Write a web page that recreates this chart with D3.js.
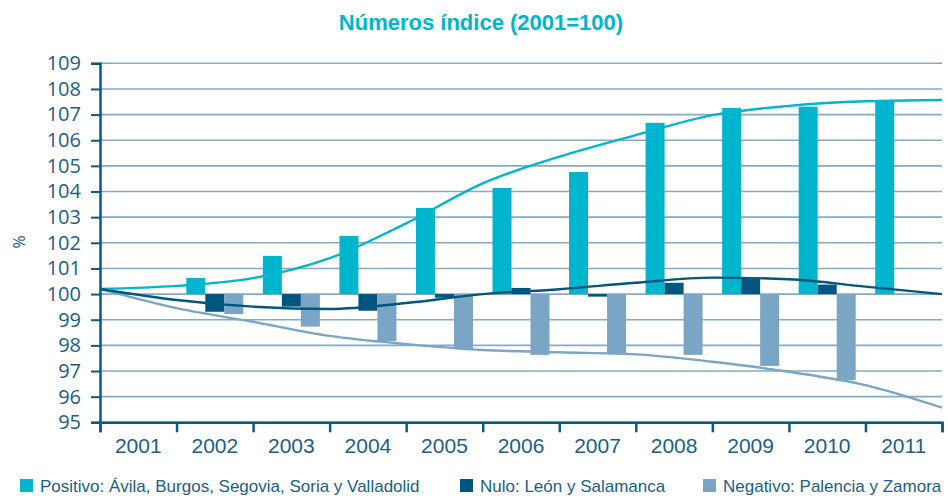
<!DOCTYPE html>
<html>
<head>
<meta charset="utf-8">
<script src="https://cdn.jsdelivr.net/npm/d3@7"></script>
<style>
  body { margin: 0; background: #fff; }
  svg { display: block; }
</style>
</head>
<body>
<div id="chart"></div>
<script>
(function () {
  'use strict';

  // data
  var years = ["2001", "2002", "2003", "2004", "2005", "2006", "2007", "2008", "2009", "2010", "2011"];
  var positivo = [100, 100.63, 101.49, 102.27, 103.36, 104.14, 104.76, 106.68, 107.26, 107.31, 107.5];
  var nulo     = [100, 99.31, 99.51, 99.35, 99.86, 100.24, 99.9, 100.44, 100.65, 100.37, 100];
  var negativo = [100, 99.22, 98.73, 98.17, 97.85, 97.63, 97.65, 97.63, 97.2, 96.64, 100];

  // trend curves, sampled at the year boundaries (12 points)
  var trendPositivo = [100.2, 100.32, 100.62, 101.4, 102.76, 104.32, 105.36, 106.2, 106.98, 107.34, 107.52, 107.57];
  var trendNulo     = [100.2, 99.77, 99.51, 99.42, 99.65, 100.0, 100.19, 100.44, 100.64, 100.58, 100.29, 100.0];
  var trendNegativo = [100.2, 99.45, 98.92, 98.37, 98.05, 97.82, 97.73, 97.65, 97.36, 96.97, 96.45, 95.57];

  var yTicks = d3.range(95, 110);
  var seriesNames = ["Positivo: Ávila, Burgos, Segovia, Soria y Valladolid", "Nulo: León y Salamanca", "Negativo: Palencia y Zamora"];
  var colors = ["#00b5cc", "#00567f", "#7ba5c5"];

  var width = 948, height = 498;
  var left = 100, right = 942, top = 63.3, bottom = 422.3;

  var svg = d3.select("#chart").append("svg")
    .attr("width", width)
    .attr("height", height);

  var y = d3.scaleLinear().domain([95, 109]).range([bottom, top]);
  var xl = d3.scaleLinear().domain([0, years.length]).range([left, right]);
  var x0 = d3.scaleBand().domain(years).range([left, right])
    .paddingInner(0.255).paddingOuter(0.1275);
  var x1 = d3.scaleBand().domain([0, 1, 2]).range([0, x0.bandwidth()]);

  // title
  svg.append("text")
    .attr("x", 481)
    .attr("y", 30)
    .attr("text-anchor", "middle")
    .style("font-family", "'Liberation Sans', Arial, sans-serif")
    .style("font-weight", "bold")
    .style("font-size", "22px")
    .style("fill", "#00b5cc")
    .text("Números índice (2001=100)");

  // grid
  svg.append("g")
    .attr("class", "grid")
    .selectAll("line")
    .data(yTicks)
    .enter().append("line")
    .attr("x1", left)
    .attr("x2", right)
    .attr("y1", function(d) { return y(d); })
    .attr("y2", function(d) { return y(d); })
    .style("stroke", "#86a9c6")
    .style("stroke-width", 1.6);

  // bars
  var data = years.map(function(yr, i) {
    return { year: yr, vals: [positivo[i], nulo[i], negativo[i]] };
  });

  var groups = svg.append("g").selectAll("g")
    .data(data)
    .enter().append("g")
    .attr("transform", function(d) { return "translate(" + x0(d.year) + ",0)"; });

  groups.selectAll("rect")
    .data(function(d) { return d.vals.map(function(v, k) { return { k: k, v: v }; }); })
    .enter().append("rect")
    .attr("x", function(d) { return x1(d.k); })
    .attr("width", x1.bandwidth())
    .attr("y", function(d) { return y(Math.max(d.v, 100)); })
    .attr("height", function(d) { return Math.abs(y(d.v) - y(100)); })
    .style("fill", function(d) { return colors[d.k]; });

  // trend lines
  var line = d3.line()
    .x(function(d, i) { return xl(i); })
    .y(function(d) { return y(d); })
    .curve(d3.curveMonotoneX);

  [[trendNegativo, colors[2]], [trendPositivo, colors[0]], [trendNulo, colors[1]]].forEach(function(t) {
    svg.append("path")
      .datum(t[0])
      .attr("d", line)
      .style("fill", "none")
      .style("stroke", t[1])
      .style("stroke-width", 2.4);
  });

  // y axis
  var yAxis = svg.append("g")
    .attr("transform", "translate(" + left + ",0)")
    .call(d3.axisLeft(y).tickValues(yTicks).tickSize(9).tickPadding(10));
  yAxis.select(".domain").style("stroke", "#0b5a84").style("stroke-width", 2.5);
  yAxis.selectAll(".tick line").style("stroke", "#0b5a84").style("stroke-width", 2);
  yAxis.selectAll("text")
    .style("font-family", "'Open Sans', 'Liberation Sans', sans-serif")
    .style("font-size", "20px")
    .style("fill", "#1c5e86");

  // x axis: ticks at the year boundaries, labels centred in each year
  var xAxis = svg.append("g")
    .attr("transform", "translate(0," + bottom + ")")
    .call(d3.axisBottom(xl).tickValues(d3.range(years.length + 1)).tickSize(10).tickFormat(""));
  xAxis.select(".domain").style("stroke", "#0b5a84").style("stroke-width", 2.5);
  xAxis.selectAll(".tick line").style("stroke", "#0b5a84").style("stroke-width", 2.5);

  svg.append("g").selectAll("text")
    .data(years)
    .enter().append("text")
    .attr("x", function(d) { return x0(d) + x0.bandwidth() / 2; })
    .attr("y", 453)
    .attr("text-anchor", "middle")
    .style("font-family", "'Liberation Sans', sans-serif")
    .style("font-size", "21px")
    .style("fill", "#1c5e86")
    .text(function(d) { return d; });

  // % label
  svg.append("text")
    .attr("transform", "translate(25,242) rotate(-90)")
    .attr("text-anchor", "middle")
    .style("font-family", "'Open Sans', sans-serif")
    .style("font-size", "16px")
    .style("fill", "#1c5e86")
    .text("%");

  // legend
  var legendX = [20, 460, 703];
  var legend = svg.append("g").selectAll("g")
    .data(seriesNames)
    .enter().append("g")
    .attr("transform", function(d, i) { return "translate(" + legendX[i] + ",479)"; });
  legend.append("rect")
    .attr("width", 13)
    .attr("height", 13)
    .style("fill", function(d, i) { return colors[i]; });
  legend.append("text")
    .attr("x", 20)
    .attr("y", 13)
    .style("font-family", "'Liberation Sans', sans-serif")
    .style("font-size", "17px")
    .style("fill", "#1c5e86")
    .text(function(d) { return d; });

})();
</script>
</body>
</html>
